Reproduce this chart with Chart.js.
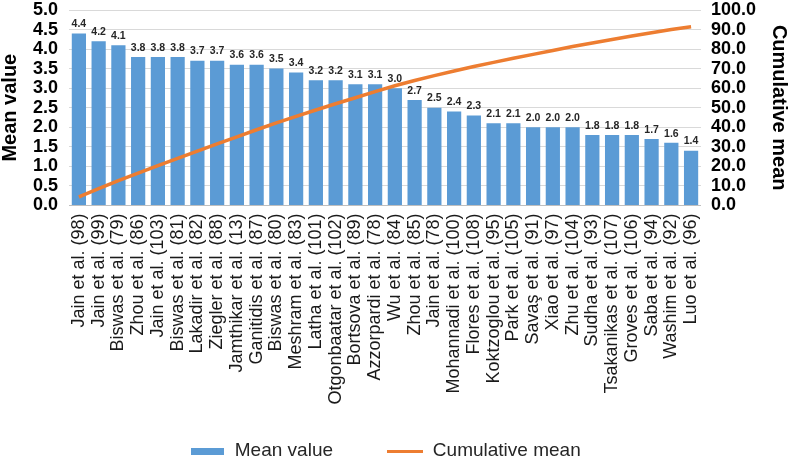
<!DOCTYPE html>
<html>
<head>
<meta charset="utf-8">
<script src="https://cdn.jsdelivr.net/npm/chart.js@4.4.1/dist/chart.umd.min.js"></script>
<style>
html,body{margin:0;padding:0;background:#ffffff;}
#wrap{width:789px;height:458px;position:relative;}
</style>
</head>
<body>
<div id="wrap"><canvas id="c"></canvas></div>
<script>
const categories = [
  "Jain et al. (98)", "Jain et al. (99)", "Biswas et al. (79)", "Zhou et al. (86)",
  "Jain et al. (103)", "Biswas et al. (81)", "Lakadir et al. (82)", "Ziegler et al. (88)",
  "Jamthikar et al. (13)", "Ganitidis et al. (87)", "Biswas et al. (80)", "Meshram et al. (83)",
  "Latha et al. (101)", "Otgonbaatar et al. (102)", "Bortsova et al. (89)", "Azzorpardi et al. (78)",
  "Wu et al. (84)", "Zhou et al. (85)", "Jain et al. (78)", "Mohannadi et al. (100)",
  "Flores et al. (108)", "Koktzoglou et al. (95)", "Park et al. (105)", "Savaş et al. (91)",
  "Xiao et al. (97)", "Zhu et al. (104)", "Sudha et al. (93)", "Tsakanikas et al. (107)",
  "Groves et al. (106)", "Saba et al. (94)", "Washim et al. (92)", "Luo et al. (96)"
];
const meanValues = [4.4, 4.2, 4.1, 3.8, 3.8, 3.8, 3.7, 3.7, 3.6, 3.6, 3.5, 3.4, 3.2, 3.2, 3.1, 3.1,
  3.0, 2.7, 2.5, 2.4, 2.3, 2.1, 2.1, 2.0, 2.0, 2.0, 1.8, 1.8, 1.8, 1.7, 1.6, 1.4];
const cumulativeMean = [4.4, 8.6, 12.7, 16.5, 20.3, 24.1, 27.8, 31.5, 35.1, 38.7, 42.2, 45.6, 48.8,
  52.0, 55.1, 58.2, 61.2, 63.9, 66.4, 68.8, 71.1, 73.2, 75.3, 77.3, 79.3, 81.3, 83.1, 84.9, 86.7,
  88.4, 90.0, 91.4];
const leftAxisRange = [0, 5];
const rightAxisRange = [0, 100];
const seriesNames = ["Mean value", "Cumulative mean"];

const FONT = "'Liberation Sans', Arial, Helvetica, sans-serif";
Chart.defaults.font.family = FONT;
Chart.defaults.color = "#000000";

const BLUE = "#5b9bd5";
const ORANGE = "#ed7d31";

function swatch(w, h, color) {
  const c = document.createElement("canvas");
  c.width = w; c.height = h;
  const x = c.getContext("2d");
  x.fillStyle = color; x.fillRect(0, 0, w, h);
  return c;
}
const barSwatch = swatch(33, 7, BLUE);
const lineSwatch = swatch(36, 3, ORANGE);

const barLabels = {
  id: "barLabels",
  afterDatasetDraw(chart, args) {
    if (args.index !== 0) return;
    const ctx = chart.ctx;
    ctx.save();
    ctx.font = "bold 10.5px " + FONT;
    ctx.fillStyle = "#262626";
    ctx.textAlign = "center";
    ctx.textBaseline = "bottom";
    args.meta.data.forEach((bar, i) => {
      ctx.fillText(meanValues[i].toFixed(1), bar.x, bar.y - 4);
    });
    ctx.restore();
  }
};

function tightTop(scale) { scale.paddingTop = 10; scale.paddingBottom = 10; }

new Chart(document.getElementById("c"), {
  type: "bar",
  data: {
    labels: categories,
    datasets: [
      {
        type: "bar",
        label: seriesNames[0],
        data: meanValues,
        backgroundColor: BLUE,
        borderWidth: 0,
        barPercentage: 0.72,
        categoryPercentage: 1.0,
        yAxisID: "y",
        order: 1
      },
      {
        type: "line",
        label: seriesNames[1],
        data: cumulativeMean,
        borderColor: ORANGE,
        backgroundColor: ORANGE,
        borderWidth: 3.5,
        pointRadius: 0,
        pointHoverRadius: 0,
        tension: 0,
        fill: false,
        yAxisID: "y1",
        order: 0
      }
    ]
  },
  options: {
    responsive: true,
    maintainAspectRatio: false,
    animation: false,
    layout: { padding: { top: 0, left: 0, right: 0, bottom: -12.5 } },
    plugins: {
      tooltip: { enabled: false },
      legend: {
        position: "bottom",
        labels: {
          usePointStyle: true,
          pointStyleWidth: 36,
          padding: 29,
          color: "#262626",
          font: { size: 19, family: FONT },
          generateLabels(chart) {
            const items = Chart.defaults.plugins.legend.labels.generateLabels(chart);
            items.forEach(it => {
              it.pointStyle = it.datasetIndex === 0 ? barSwatch : lineSwatch;
              it.text = it.text + (it.datasetIndex === 0 ? "\u2003\u2004" : "\u2003");
            });
            items.sort((a, b) => a.datasetIndex - b.datasetIndex);
            return items;
          }
        }
      }
    },
    scales: {
      x: {
        grid: { display: false, drawTicks: false },
        border: { display: true, color: "#bfbfbf", width: 1 },
        ticks: {
          autoSkip: false,
          minRotation: 90,
          maxRotation: 90,
          padding: 8,
          color: "#1a1a1a",
          font: { size: 18, family: FONT }
        }
      },
      y: {
        position: "left",
        min: leftAxisRange[0],
        max: leftAxisRange[1],
        afterFit: tightTop,
        grid: { color: "#d9d9d9", lineWidth: 1, drawTicks: false },
        border: { display: false },
        ticks: {
          autoSkip: false,
          stepSize: 0.5,
          padding: 11,
          color: "#000000",
          font: { size: 18, weight: "bold", family: FONT },
          callback: v => Number(v).toFixed(1)
        },
        title: {
          display: true,
          text: "Mean value",
          color: "#000000",
          font: { size: 20, weight: "bold", family: FONT, lineHeight: 1 },
          padding: { top: 0, bottom: 2 }
        }
      },
      y1: {
        position: "right",
        min: rightAxisRange[0],
        max: rightAxisRange[1],
        afterFit: tightTop,
        grid: { display: false, drawTicks: false },
        border: { display: false },
        ticks: {
          autoSkip: false,
          stepSize: 10,
          padding: 10,
          color: "#000000",
          font: { size: 18, weight: "bold", family: FONT },
          callback: v => Number(v).toFixed(1)
        },
        title: {
          display: true,
          text: "Cumulative mean",
          color: "#000000",
          font: { size: 20, weight: "bold", family: FONT, lineHeight: 1 },
          padding: { top: 0, bottom: 3 }
        }
      }
    }
  },
  plugins: [barLabels]
});
</script>
</body>
</html>
